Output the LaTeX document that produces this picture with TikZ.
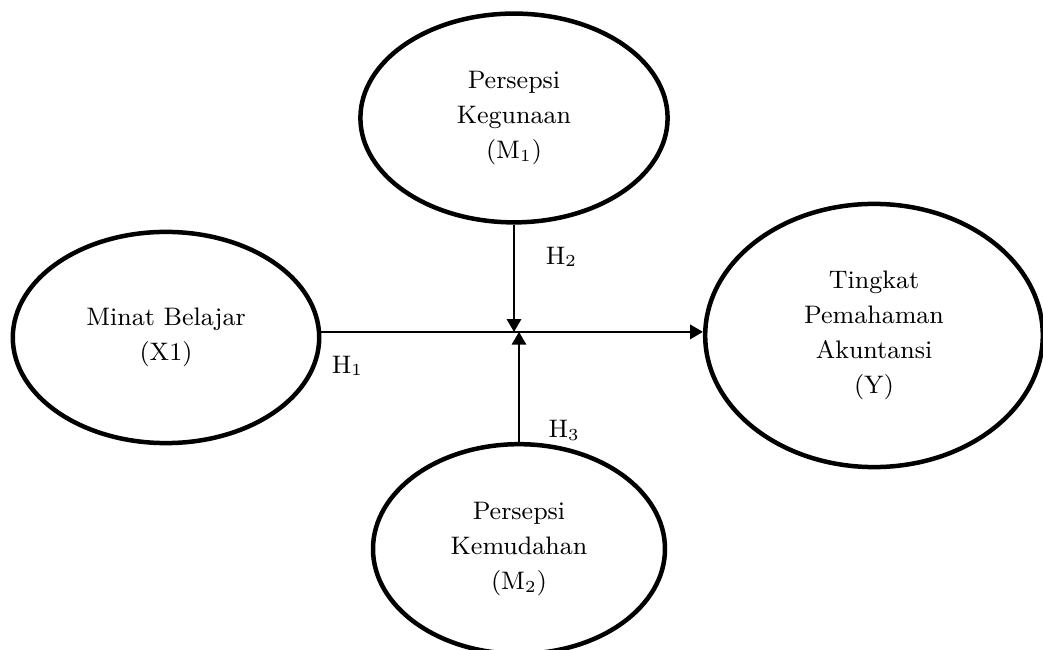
\documentclass[tikz,border=0pt]{standalone}
\usepackage{tikz}
\usetikzlibrary{arrows.meta}
\usetikzlibrary{positioning,shapes.geometric}

\begin{document}
\begin{tikzpicture}[
MyEllipse/.style={draw=black,ellipse,line width=1.6pt,inner sep=0pt,align=center,font=\fontsize{9}{12.4}\selectfont},
MyArrow/.style={draw=black,line width=0.7pt,-{Triangle[length=1.6mm, width=1.8mm]}},
MyLabel/.style={font=\fontsize{9}{11}\selectfont}
]
\useasboundingbox (0,0) rectangle (13.0375,8.125);

% the four variables
\node[MyEllipse, minimum width=3.84cm, minimum height=2.61cm] (M1) at (6.425,6.65) {Persepsi\\Kegunaan\\(M\textsubscript{1})};
\node[MyEllipse, minimum width=3.83cm, minimum height=2.64cm] (X1) at (2.075,3.906) {Minat Belajar\\(X1)};
\node[MyEllipse, minimum width=4.22cm, minimum height=3.29cm] (Y) at (10.925,3.931) {Tingkat\\Pemahaman\\Akuntansi\\(Y)};
\node[MyEllipse, minimum width=3.65cm, minimum height=2.62cm] (M2) at (6.4875,1.2625) {Persepsi\\Kemudahan\\(M\textsubscript{2})};

% main path X1 -> Y, a bit above the centres
\coordinate (S) at ([yshift=0.07cm]X1.east);
\coordinate (T) at (S -| Y.west);

\draw[MyArrow] (S)--(T) node[pos=0, below right=0.17cm and 0cm, MyLabel] (H1) {H\textsubscript{1}};

% moderators
\draw[MyArrow] (M1.south)--(M1.south |- S) node[pos=0.3, right=0.27cm, MyLabel] (H2) {H\textsubscript{2}};
\draw[MyArrow] (M2.north)--(M2.north |- S) node[pos=0.1, right=0.24cm, MyLabel] (H3) {H\textsubscript{3}};

\end{tikzpicture}
\end{document}
